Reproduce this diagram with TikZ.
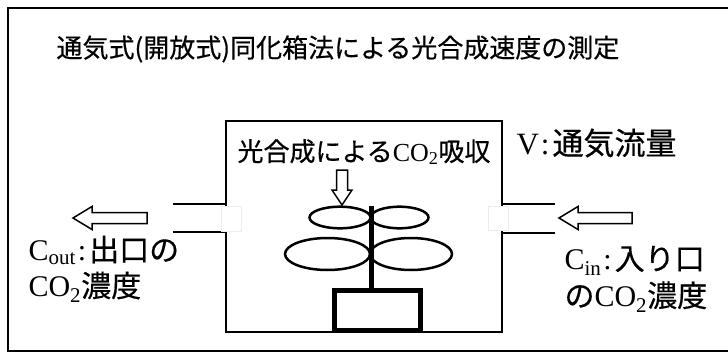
\documentclass[tikz,border=0pt]{standalone}
\usepackage{fontspec}
\setmainfont{Noto Sans CJK JP}[FakeBold=0.5]
\newfontfamily\tm{Liberation Serif}
\newcommand{\cotwo}{{\tm CO\textsubscript{2}}}
\newcommand{\sep}{\kern2pt:\kern3pt}

\begin{document}
\begin{tikzpicture}[x=1pt,y=-1pt,
    wall/.style={line width=2.5pt,line join=miter},
    leaf/.style={draw,line width=2.5pt},
    hollow/.style={draw,fill=white,line width=1.5pt,line join=miter},
    port/.style={draw=gray!15,fill=white,line width=0.6pt,inner sep=0pt}]
  \useasboundingbox (0,0) rectangle (728,353);
  % outer frame (runs off to the right)
  \draw[line width=2pt] (740,8) -- (8,8) -- (8,351) -- (740,351);
  \node[anchor=west,font=\fontsize{26}{30}\selectfont] (title) at (53,49)
    {通気式(開放式)同化箱法による光合成速度の測定};

  % chamber with inlet and outlet pipes
  \draw[wall] (226,121) rectangle (502,332);
  \draw[wall] (173,204) -- (226,204);
  \draw[wall] (173,232) -- (226,232);
  \draw[wall] (502,204) -- (555,204);
  \draw[wall] (502,233) -- (555,233);
  \node[port,minimum width=20pt,minimum height=25pt] (outport) at (231,218.5) {};
  \node[port,minimum width=20pt,minimum height=24pt] (inport) at (498,218) {};

  % plant in its pot
  \draw[leaf] (340,217.5) ellipse [x radius=30.5pt, y radius=10.8pt];
  \draw[leaf] (399.5,217.5) ellipse [x radius=29pt, y radius=10.8pt];
  \draw[leaf] (327.5,254) ellipse [x radius=42.5pt, y radius=16pt];
  \draw[leaf] (411,254) ellipse [x radius=41pt, y radius=16pt];
  \draw[line width=5pt] (371,206) -- (371,290);
  \draw[line width=5pt] (334.5,290.5) rectangle (420.5,330);

  % hollow arrows
  \coordinate (uptip) at (342,205);
  \coordinate (outtip) at (73,218);
  \coordinate (intip) at (559,218);
  \draw[hollow] (uptip) -- ++(-10,-15) -- ++(4.5,0) -- ++(0,-20) -- ++(11,0)
    -- ++(0,20) -- ++(4.5,0) -- cycle;
  \draw[hollow] (outtip) -- ++(19,-11.5) -- ++(0,6) -- ++(55,0) -- ++(0,11)
    -- ++(-55,0) -- ++(0,6) -- cycle;
  \draw[hollow] (intip) -- ++(19,-11.5) -- ++(0,6) -- ++(54,0) -- ++(0,11)
    -- ++(-54,0) -- ++(0,6) -- cycle;

  % labels
  \node[font=\fontsize{26}{30}\selectfont] (uptake) at (364,152)
    {光合成による\cotwo 吸収};
  \node[anchor=west,font=\fontsize{31}{36}\selectfont] (flow) at (513,143)
    {{\tm V\sep}通気流量};
  \node[anchor=west,align=left,font=\fontsize{30}{36}\selectfont] (coutlabel)
    at (25,269) {{\tm C\textsubscript{out}\sep}出口の\\\cotwo 濃度};
  \node[anchor=west,align=left,font=\fontsize{30}{37}\selectfont] (cinlabel)
    at (561,279) {{\tm C\textsubscript{in}\sep}入り口\\の\cotwo 濃度};
\end{tikzpicture}
\end{document}
